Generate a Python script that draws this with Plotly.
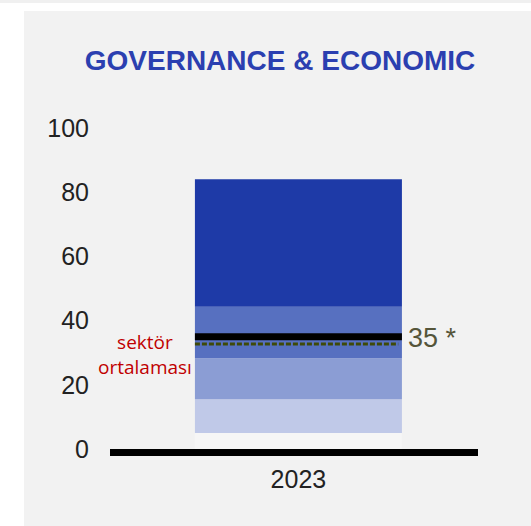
import plotly.graph_objects as go

# ---- data ----
years = ["2023"]
band_bounds = [0, 5, 15.5, 28.3, 44.3, 84]  # stacked band edges
band_colors = ["#f6f6f6", "#c0c9e8", "#8b9dd4", "#5770c0", "#1e3aa7"]
score = 35
sector_avg = 32.7
title_text = "GOVERNANCE & ECONOMIC"
sector_label = "sektör<br>ortalaması"
y_ticks = [0, 20, 40, 60, 80, 100]

W, H = 531, 526
bar_width = 0.5625

fig = go.Figure()
for i, col in enumerate(band_colors):
    fig.add_trace(go.Bar(
        x=years, y=[band_bounds[i + 1] - band_bounds[i]], base=[band_bounds[i]],
        marker=dict(color=col, line=dict(width=0)), width=bar_width,
        showlegend=False, hoverinfo="skip"))

half = bar_width / 2
fig.add_shape(type="line", xref="x", yref="y", x0=-half, x1=half, y0=score, y1=score,
              line=dict(color="black", width=7))
fig.add_shape(type="line", xref="x", yref="y", x0=-half, x1=half - 0.01, y0=sector_avg, y1=sector_avg,
              line=dict(color="#3f4a08", width=3, dash="5px,2px"))

# background panel and top strip
fig.add_shape(type="rect", xref="paper", yref="paper", layer="below",
              x0=(24 - 110) / 368, x1=(531 - 110) / 368,
              y0=(449 - 526) / 321, y1=(449 - 11) / 321,
              fillcolor="#f2f2f2", line=dict(width=0))
fig.add_shape(type="rect", xref="paper", yref="paper", layer="below",
              x0=(0 - 110) / 368, x1=(531 - 110) / 368,
              y0=(449 - 3) / 321, y1=(449 - 0) / 321,
              fillcolor="#f0f0f0", line=dict(width=0))

fig.add_annotation(xref="x", yref="y", x=half, y=score, xanchor="left", yanchor="middle",
                   xshift=4, yshift=-1, text=f"{score} *", showarrow=False,
                   font=dict(family="Liberation Sans, Arial", size=27, color="#55553a"))
fig.add_annotation(xref="paper", yref="y", x=(145 - 110) / 368, y=sector_avg,
                   yshift=-10, xanchor="center", yanchor="middle", showarrow=False,
                   text=sector_label, align="center",
                   font=dict(family="Open Sans", size=19, color="#c00000"))

fig.update_layout(
    width=W, height=H,
    paper_bgcolor="white", plot_bgcolor="rgba(0,0,0,0)",
    margin=dict(l=110, r=53, t=128, b=77),
    barmode="overlay",
    title=dict(text=f"<b>{title_text}</b>", x=280 / W, xanchor="center",
               y=1 - 60 / H, yanchor="middle",
               font=dict(family="Liberation Sans, Arial", size=28, color="#2b3fb0")),
    xaxis=dict(type="category", range=[-0.512, 0.488], showgrid=False, zeroline=False,
               showline=True, linecolor="black", linewidth=7,
               tickfont=dict(family="Liberation Sans, Arial", size=25, color="#222222"),
               ticks="", ticklabelstandoff=2),
    yaxis=dict(range=[0, 100], tickvals=y_ticks, showgrid=False, zeroline=False,
               showline=False, ticks="",
               tickfont=dict(family="Liberation Sans, Arial", size=25, color="#222222"),
               ticklabelstandoff=20),
)

fig.write_html("out.html", config={"displayModeBar": False},
               post_script="document.body.style.margin='0px';")
